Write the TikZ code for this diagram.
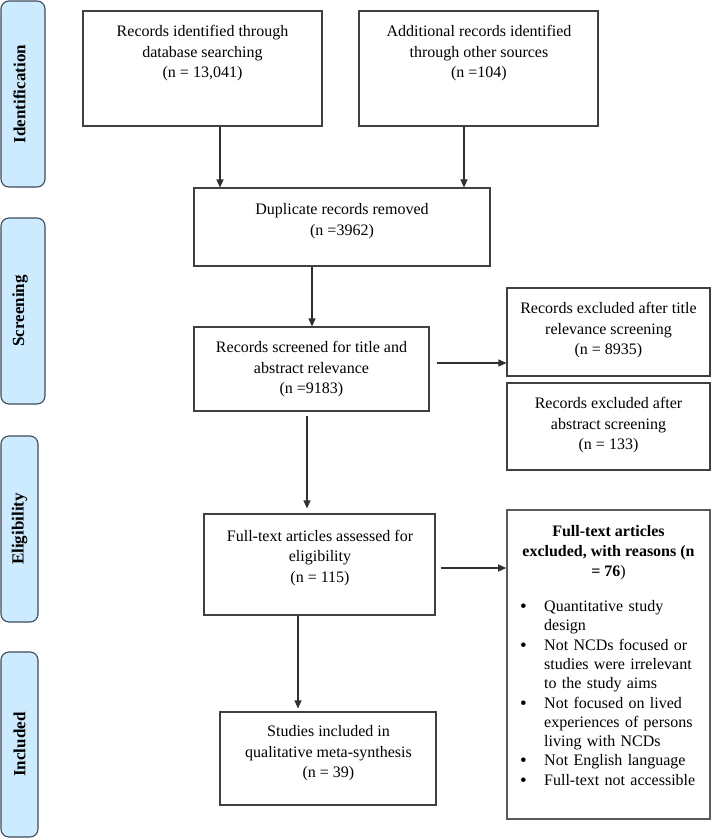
\documentclass[tikz,border=0pt]{standalone}
\usepackage{fontspec}
\setmainfont{Liberation Serif}
\usetikzlibrary{arrows.meta}
\definecolor{boxc}{HTML}{404040}
\definecolor{ftec}{HTML}{5A5A5A}
\definecolor{sidefill}{HTML}{CDEBFF}
\definecolor{sidec}{HTML}{3D4B5C}
\definecolor{arrc}{HTML}{303030}
\newcommand{\bigbul}{\raisebox{-1pt}{\fontsize{19}{19}\selectfont\textbullet}}
\newcommand{\bitem}[1]{\par\hangindent=24pt\hangafter=1\noindent\makebox[24pt][l]{\bigbul}#1}
\begin{document}
\begin{tikzpicture}[x=1pt,y=-1pt,
  box/.style={draw=boxc, line width=1.1pt, inner sep=0pt},
  side/.style={draw=sidec, fill=sidefill, line width=1.1pt, rounded corners=8pt, inner sep=0pt},
  sidetxt/.style={rotate=90, font=\fontsize{17}{20}\selectfont\bfseries, inner sep=0pt},
  txt/.style={align=center, font=\fontsize{16}{20.5}\selectfont, inner sep=0pt},
  arr/.style={draw=arrc, line width=1.1pt, -{Triangle[length=8pt,width=7pt]}},
]
\fill[white] (0,0) rectangle (711,839);
\useasboundingbox (0,0) rectangle (711,839);

% side labels
\node[side, minimum width=44pt, minimum height=186pt] (idl) at (23,94) {};
\node[sidetxt] (idt) at (19.5,94) {Identification};
\node[side, minimum width=44pt, minimum height=186pt] (scl) at (23,311) {};
\node[sidetxt] (sct) at (20,311) {Screening};
\node[side, minimum width=37pt, minimum height=186pt] (ell) at (19.5,529) {};
\node[sidetxt] (elt) at (19.5,529) {Eligibility};
\node[side, minimum width=37pt, minimum height=185pt] (inl) at (19.5,744.5) {};
\node[sidetxt] (int) at (19.5,744.5) {Included};

% boxes
\node[box, minimum width=239pt, minimum height=115pt] (db) at (202.5,68.5) {};
\node[txt] (dbt) at (202.5,53.5) {Records identified through\\database searching\\(n = 13,041)};
\node[box, minimum width=239pt, minimum height=115pt] (add) at (478.5,68.5) {};
\node[txt] (addt) at (479,53.5) {Additional records identified\\through other sources\\(n =104)};
\node[box, minimum width=296pt, minimum height=78pt] (dup) at (342,227) {};
\node[txt] (dupt) at (342,221) {Duplicate records removed\\(n =3962)};
\node[box, minimum width=235pt, minimum height=84pt] (scr) at (311.5,369) {};
\node[txt] (scrt) at (311.5,369.5) {Records screened for title and\\abstract relevance\\(n =9183)};
\node[box, minimum width=203pt, minimum height=88pt] (ext) at (608.5,332) {};
\node[txt] (extt) at (608.5,330.5) {Records excluded after title\\relevance screening\\(n = 8935)};
\node[box, minimum width=203pt, minimum height=87pt] (exa) at (608.5,426.5) {};
\node[txt] (exat) at (608.5,425.5) {Records excluded after\\abstract screening\\(n = 133)};
\node[box, minimum width=231pt, minimum height=101pt] (fta) at (319.5,564.5) {};
\node[txt] (ftat) at (320,558) {Full-text articles assessed for\\eligibility\\(n = 115)};
\node[box, draw=ftec, line width=1.6pt, minimum width=203pt, minimum height=309pt] (fte) at (608.5,664.5) {};
\node[txt, font=\fontsize{16}{20}\selectfont\bfseries] (ftet) at (608.5,553) {Full-text articles\\excluded, with reasons (n\\= 76{\mdseries)}};
\node[anchor=north west, inner sep=0pt, text width=190pt, font=\fontsize{16}{19.3}\selectfont] (ftel) at (520,592) {%
\bitem{Quantitative study\newline design}%
\bitem{Not NCDs focused or\newline studies were irrelevant\newline to the study aims}%
\bitem{Not focused on lived\newline experiences of persons\newline living with NCDs}%
\bitem{Not English language}%
\bitem{Full-text not accessible}\par};
\node[box, minimum width=216pt, minimum height=93pt] (stu) at (328,758.5) {};
\node[txt] (stut) at (328.5,753.5) {Studies included in\\qualitative meta-synthesis\\(n = 39)};

% arrows
\coordinate (a1) at ([xshift=17.5pt]db.south);
\draw[arr] (a1) -- (a1 |- dup.north);
\coordinate (a2) at ([xshift=-14.5pt]add.south);
\draw[arr] (a2) -- (a2 |- dup.north);
\coordinate (a3) at ([xshift=-30pt]dup.south);
\draw[arr] (a3) -- (a3 |- scr.north);
\coordinate (a4) at ([xshift=7pt,yshift=6pt]scr.east);
\draw[arr] (a4) -- (a4 -| ext.west);
\coordinate (a5) at ([xshift=-4.5pt,yshift=-4pt]scr.south);
\draw[arr, shorten >=5pt] (a5) -- (a5 |- fta.north);
\coordinate (a6) at ([xshift=5pt,yshift=-3.5pt]fta.east);
\draw[arr] (a6) -- (a6 -| fte.west);
\coordinate (a7) at ([xshift=-21.5pt]fta.south);
\draw[arr, shorten >=3pt] (a7) -- (a7 |- stu.north);
\end{tikzpicture}
\end{document}
